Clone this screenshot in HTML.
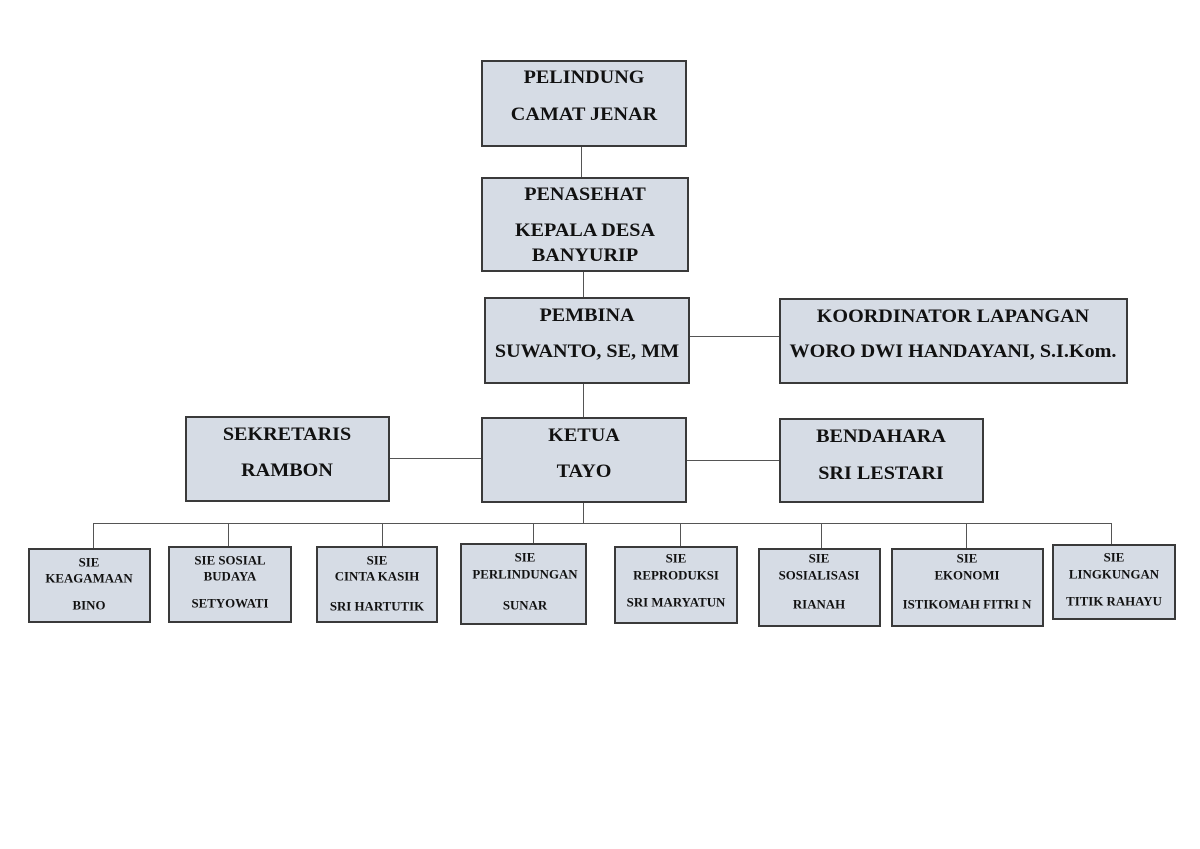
<!DOCTYPE html>
<html><head><meta charset="utf-8"><style>
body{margin:0;width:1200px;height:849px;background:#fff;position:relative;overflow:hidden;font-family:"Liberation Serif",serif;font-weight:bold;color:#111}
.b{position:absolute;background:#d6dce5;border:2px solid #3a3a3a;box-sizing:border-box}
.l{position:absolute;background:#555}
.t{position:absolute;transform:translate(-50%,-50%) scaleX(1.06);white-space:nowrap;font-size:19px}
.s{font-size:12.5px;transform:translate(-50%,-50%) scaleX(1.03)}
</style></head><body>
<div class="l" style="left:581px;top:146px;width:1px;height:31px"></div>
<div class="l" style="left:583px;top:271px;width:1px;height:26px"></div>
<div class="l" style="left:689px;top:336px;width:90px;height:1px"></div>
<div class="l" style="left:583px;top:383px;width:1px;height:34px"></div>
<div class="l" style="left:389px;top:458px;width:92px;height:1px"></div>
<div class="l" style="left:686px;top:460px;width:93px;height:1px"></div>
<div class="l" style="left:583px;top:502px;width:1px;height:22px"></div>
<div class="l" style="left:93px;top:523px;width:1019px;height:1px"></div>
<div class="l" style="left:93px;top:523px;width:1px;height:25px"></div>
<div class="l" style="left:228px;top:523px;width:1px;height:23px"></div>
<div class="l" style="left:382px;top:523px;width:1px;height:23px"></div>
<div class="l" style="left:533px;top:523px;width:1px;height:20px"></div>
<div class="l" style="left:680px;top:523px;width:1px;height:23px"></div>
<div class="l" style="left:821px;top:523px;width:1px;height:25px"></div>
<div class="l" style="left:966px;top:523px;width:1px;height:25px"></div>
<div class="l" style="left:1111px;top:523px;width:1px;height:21px"></div>
<div class="b" style="left:481px;top:60px;width:206px;height:87px"></div>
<div class="b" style="left:481px;top:177px;width:208px;height:95px"></div>
<div class="b" style="left:484px;top:297px;width:206px;height:87px"></div>
<div class="b" style="left:779px;top:298px;width:349px;height:86px"></div>
<div class="b" style="left:481px;top:417px;width:206px;height:86px"></div>
<div class="b" style="left:185px;top:416px;width:205px;height:86px"></div>
<div class="b" style="left:779px;top:418px;width:205px;height:85px"></div>
<div class="b" style="left:28px;top:548px;width:123px;height:75px"></div>
<div class="b" style="left:168px;top:546px;width:124px;height:77px"></div>
<div class="b" style="left:316px;top:546px;width:122px;height:77px"></div>
<div class="b" style="left:460px;top:543px;width:127px;height:82px"></div>
<div class="b" style="left:614px;top:546px;width:124px;height:78px"></div>
<div class="b" style="left:758px;top:548px;width:123px;height:79px"></div>
<div class="b" style="left:891px;top:548px;width:153px;height:79px"></div>
<div class="b" style="left:1052px;top:544px;width:124px;height:76px"></div>
<div class="t" style="left:584px;top:78px">PELINDUNG</div>
<div class="t" style="left:584px;top:115px">CAMAT JENAR</div>
<div class="t" style="left:585px;top:195px">PENASEHAT</div>
<div class="t" style="left:585px;top:231px">KEPALA DESA</div>
<div class="t" style="left:585px;top:256px">BANYURIP</div>
<div class="t" style="left:587px;top:316px">PEMBINA</div>
<div class="t" style="left:587px;top:352px">SUWANTO, SE, MM</div>
<div class="t" style="left:953px;top:317px">KOORDINATOR LAPANGAN</div>
<div class="t" style="left:953px;top:352px">WORO DWI HANDAYANI, S.I.Kom.</div>
<div class="t" style="left:584px;top:436px">KETUA</div>
<div class="t" style="left:584px;top:472px">TAYO</div>
<div class="t" style="left:287px;top:435px">SEKRETARIS</div>
<div class="t" style="left:287px;top:471px">RAMBON</div>
<div class="t" style="left:881px;top:437px">BENDAHARA</div>
<div class="t" style="left:881px;top:474px">SRI LESTARI</div>
<div class="t s" style="left:89px;top:563px">SIE</div>
<div class="t s" style="left:89px;top:579px">KEAGAMAAN</div>
<div class="t s" style="left:89px;top:606px">BINO</div>
<div class="t s" style="left:230px;top:561px">SIE SOSIAL</div>
<div class="t s" style="left:230px;top:577px">BUDAYA</div>
<div class="t s" style="left:230px;top:604px">SETYOWATI</div>
<div class="t s" style="left:377px;top:561px">SIE</div>
<div class="t s" style="left:377px;top:577px">CINTA KASIH</div>
<div class="t s" style="left:377px;top:607px">SRI HARTUTIK</div>
<div class="t s" style="left:525px;top:558px">SIE</div>
<div class="t s" style="left:525px;top:575px">PERLINDUNGAN</div>
<div class="t s" style="left:525px;top:606px">SUNAR</div>
<div class="t s" style="left:676px;top:559px">SIE</div>
<div class="t s" style="left:676px;top:576px">REPRODUKSI</div>
<div class="t s" style="left:676px;top:603px">SRI MARYATUN</div>
<div class="t s" style="left:819px;top:559px">SIE</div>
<div class="t s" style="left:819px;top:576px">SOSIALISASI</div>
<div class="t s" style="left:819px;top:605px">RIANAH</div>
<div class="t s" style="left:967px;top:559px">SIE</div>
<div class="t s" style="left:967px;top:576px">EKONOMI</div>
<div class="t s" style="left:967px;top:605px">ISTIKOMAH FITRI N</div>
<div class="t s" style="left:1114px;top:558px">SIE</div>
<div class="t s" style="left:1114px;top:575px">LINGKUNGAN</div>
<div class="t s" style="left:1114px;top:602px">TITIK RAHAYU</div>
</body></html>
